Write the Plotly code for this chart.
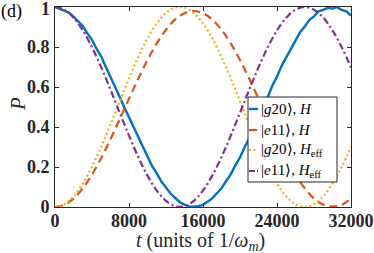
import plotly.graph_objects as go

# ---- data ----
t_coarse = [0, 1000, 2000, 3000, 4000, 5000, 6000, 7000, 8000, 9000, 10000,
            11000, 12000, 13000, 14000, 15000, 16000, 17000, 18000, 19000, 20000,
            21000, 22000, 23000, 24000, 25000, 26000, 27000, 28000, 29000, 30000,
            31000, 32000]

t_fine = [0, 500, 1000, 1500, 2000, 2500, 3000, 3500, 4000, 4500, 5000, 5500,
          6000, 6500, 7000, 7500, 8000, 8500, 9000, 9500, 10000, 10500, 11000,
          11500, 12000, 12500, 13000, 13500, 14000, 14500, 15000, 15500, 16000,
          16500, 17000, 17500, 18000, 18500, 19000, 19500, 20000, 20500, 21000,
          21500, 22000, 22500, 23000, 23500, 24000, 24500, 25000, 25500, 26000,
          26500, 27000, 27500, 28000, 28500, 29000, 29500, 30000, 30500, 31000,
          31500, 32000]

g20_H = [1.000, 0.990, 0.984, 0.972, 0.952, 0.930, 0.905, 0.868, 0.836, 0.790,
         0.752, 0.700, 0.652, 0.600, 0.550, 0.498, 0.449, 0.393, 0.347, 0.294,
         0.252, 0.204, 0.168, 0.127, 0.097, 0.066, 0.045, 0.024, 0.012, 0.003,
         0.001, 0.004, 0.011, 0.026, 0.043, 0.069, 0.094, 0.130, 0.163, 0.208,
         0.248, 0.299, 0.343, 0.398, 0.446, 0.503, 0.550, 0.607, 0.652, 0.706,
         0.748, 0.797, 0.832, 0.874, 0.902, 0.936, 0.953, 0.978, 0.986, 0.996,
         0.992, 0.999, 0.985, 0.978, 0.957]

e11_H = [0.000, 0.011, 0.042, 0.094, 0.162, 0.245, 0.339, 0.439, 0.541, 0.641,
         0.735, 0.818, 0.886, 0.938, 0.969, 0.980, 0.969, 0.938, 0.886, 0.818,
         0.735, 0.641, 0.541, 0.439, 0.339, 0.245, 0.162, 0.094, 0.042, 0.011,
         0.002, 0.011, 0.042]

g20_Heff = [0.000, 0.0135, 0.0532, 0.1170, 0.2014, 0.3020, 0.4132, 0.5291,
            0.6434, 0.7500, 0.8431, 0.9177, 0.9698, 0.9966, 0.9966, 0.9698,
            0.9177, 0.8431, 0.7500, 0.6434, 0.5291, 0.4132, 0.3020, 0.2014,
            0.1170, 0.0532, 0.0135, 0.000, 0.0135, 0.0532, 0.1170, 0.2014,
            0.3020]

e11_Heff = [1.000, 0.9865, 0.9468, 0.8830, 0.7986, 0.6980, 0.5868, 0.4709,
            0.3566, 0.2500, 0.1569, 0.0823, 0.0302, 0.0034, 0.0034, 0.0302,
            0.0823, 0.1569, 0.2500, 0.3566, 0.4709, 0.5868, 0.6980, 0.7986,
            0.8830, 0.9468, 0.9865, 1.000, 0.9865, 0.9468, 0.8830, 0.7986,
            0.6980]

x_ticks = [0, 8000, 16000, 24000, 32000]
x_ticklabels = ["0", "8000", "16000", "24000", "32000"]
y_ticks = [0, 0.2, 0.4, 0.6, 0.8, 1]
y_ticklabels = ["0", "0.2", "0.4", "0.6", "0.8", "1"]

legend_labels = ["|<i>g</i>20⟩, <i>H</i>", "|<i>e</i>11⟩, <i>H</i>",
                 "|<i>g</i>20⟩, <i>H</i><sub>eff</sub>",
                 "|<i>e</i>11⟩, <i>H</i><sub>eff</sub>"]

# ---- styles ----
BLUE = "#0072BD"
ORANGE = "#D95319"
YELLOW = "#EDB120"
PURPLE = "#7E2F8E"
SERIF = "Liberation Serif"
AX = "#262626"
TICKFONT = dict(family=SERIF, size=18, color=AX, weight="bold")

styles = [
    dict(color=BLUE, width=2.4, dash="solid"),
    dict(color=ORANGE, width=2.2, dash="8px,5px"),
    dict(color=YELLOW, width=2.2, dash="2px,2.6px"),
    dict(color=PURPLE, width=2.2, dash="7px,3px,2px,3px"),
]

fig = go.Figure()
fig.add_trace(go.Scatter(x=t_fine, y=g20_H, mode="lines", line=styles[0],
                         name=legend_labels[0], showlegend=False))
fig.add_trace(go.Scatter(x=t_coarse, y=e11_H, mode="lines",
                         line=dict(**styles[1], shape="spline"),
                         name=legend_labels[1], showlegend=False))
fig.add_trace(go.Scatter(x=t_coarse, y=g20_Heff, mode="lines",
                         line=dict(**styles[2], shape="spline"),
                         name=legend_labels[2], showlegend=False))
fig.add_trace(go.Scatter(x=t_coarse, y=e11_Heff, mode="lines",
                         line=dict(**styles[3], shape="spline"),
                         name=legend_labels[3], showlegend=False))

# ---- compact legend box (as in the MATLAB original) ----
shapes = [dict(type="rect", xref="x", yref="y", x0=20865, x1=30486,
               y0=0.125, y1=0.55, fillcolor="white",
               line=dict(color=AX, width=1), layer="above")]
entry_y = [0.49, 0.385, 0.285, 0.18]
annotations = []
for i, yy in enumerate(entry_y):
    st = styles[i]
    shapes.append(dict(type="line", xref="x", yref="y", x0=20973, x1=21946,
                       y0=yy, y1=yy, layer="above",
                       line=dict(color=st["color"], width=st["width"],
                                 dash=st["dash"] if i != 3 else "6px,2px,2px,2px")))
    annotations.append(dict(xref="x", yref="y", x=22050, y=yy, xanchor="left",
                            yanchor="middle", showarrow=False,
                            text=legend_labels[i],
                            font=dict(family=SERIF, size=15, color="black")))

# top y tick label: drawn just below the axis top so it stays inside the page
y_ticklabels_axis = y_ticklabels[:-1] + [""]
annotations.append(dict(xref="paper", yref="y", x=0, y=y_ticks[-1],
                        xanchor="right", yanchor="middle", xshift=-3,
                        yshift=-2, showarrow=False, text=y_ticklabels[-1],
                        font=TICKFONT))

# panel label
annotations.append(dict(xref="paper", yref="paper", x=-0.186, y=0.98,
                        xanchor="left", yanchor="middle", showarrow=False,
                        borderpad=0, text="(d)",
                        font=dict(family=SERIF, size=18, color="black")))
# axis titles
annotations.append(dict(xref="paper", yref="paper", x=0.49, y=-0.17,
                        xanchor="center", yanchor="middle", showarrow=False,
                        text="<i>t</i> (units of 1/<i>ω</i><sub><i>m</i></sub>)",
                        font=dict(family=SERIF, size=20, color=AX)))
annotations.append(dict(xref="paper", yref="paper", x=-0.125, y=0.515,
                        xanchor="center", yanchor="middle", showarrow=False,
                        textangle=-90, text="<i>P</i>",
                        font=dict(family=SERIF, size=21, color=AX)))

fig.update_layout(
    width=374, height=253,
    margin=dict(l=55, r=23, t=7, b=46, autoexpand=False),
    paper_bgcolor="white", plot_bgcolor="white",
    shapes=shapes, annotations=annotations, showlegend=False,
    xaxis=dict(range=[0, 32000], tickvals=x_ticks, ticktext=x_ticklabels,
               ticks="inside", ticklen=4, tickcolor=AX, tickwidth=1,
               showline=True, linecolor=AX, linewidth=1, mirror="ticks",
               showgrid=False, zeroline=False, automargin=False,
               ticklabeloverflow="allow", ticklabelstandoff=-3,
               tickfont=TICKFONT),
    yaxis=dict(range=[0, 1], tickvals=y_ticks, ticktext=y_ticklabels_axis,
               ticks="inside", ticklen=4, tickcolor=AX, tickwidth=1,
               showline=True, linecolor=AX, linewidth=1, mirror="ticks",
               showgrid=False, zeroline=False, automargin=False,
               ticklabeloverflow="allow", ticklabelstandoff=1,
               tickfont=TICKFONT),
)

fig.write_html("out.html", config={"displayModeBar": False},
               post_script="document.body.style.margin='0px';"
                           "document.body.style.overflow='hidden';")
